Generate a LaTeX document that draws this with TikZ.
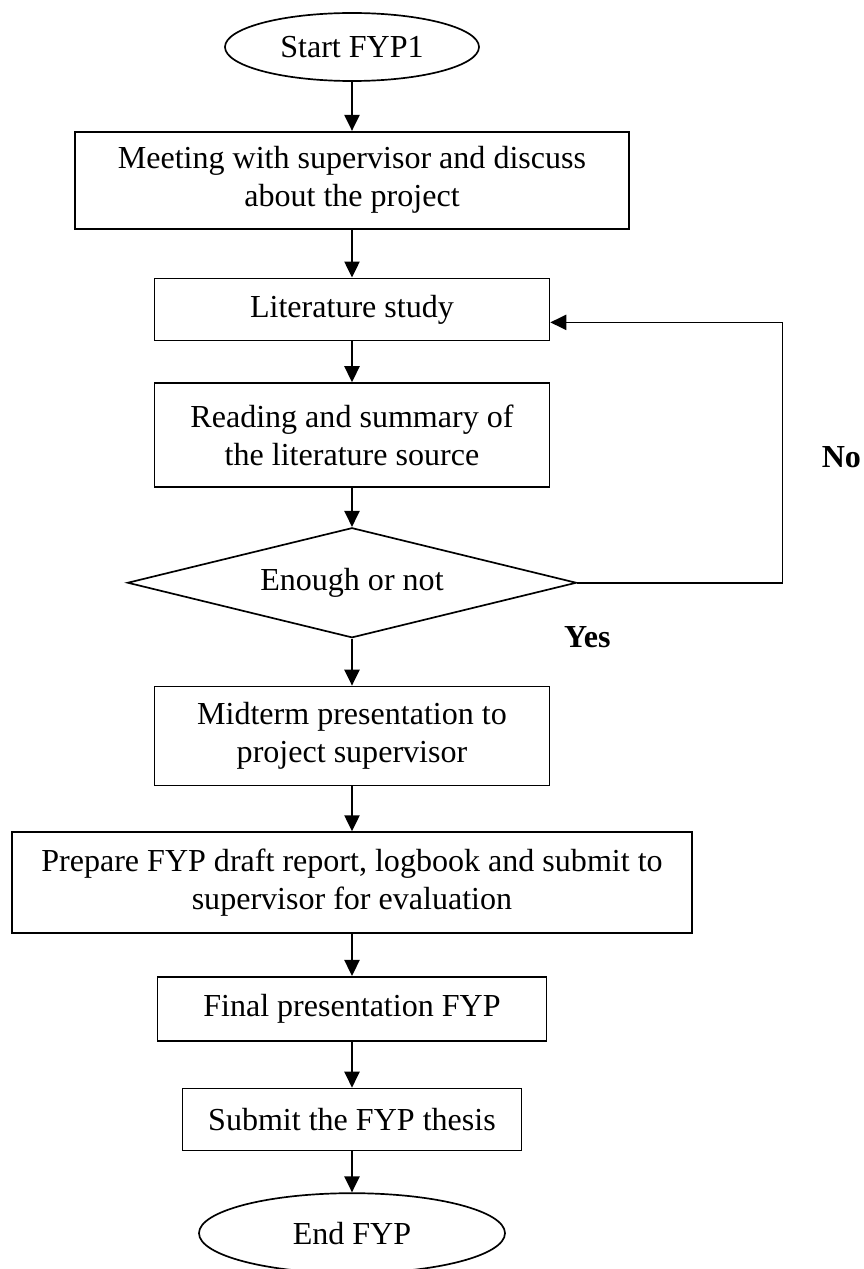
\documentclass[tikz,border=0pt]{standalone}
\usepackage{fontspec}
\setmainfont{Liberation Serif}
\usetikzlibrary{arrows.meta, positioning, shapes.geometric}

\begin{document}
\begin{tikzpicture}[
    node distance=1.1cm,
    term/.style={ellipse, draw, line width=1.2pt, inner sep=0pt, text centered},
    box/.style={rectangle, draw, line width=1.2pt, inner sep=0pt, align=center},
    decision/.style={diamond, draw, line width=1.2pt, shape aspect=4, inner sep=0pt, text centered},
    arrow/.style={-{Triangle[length=0.4cm, width=0.38cm]}, line width=1.2pt},
    answer/.style={font=\fontsize{22.8}{27}\selectfont\bfseries},
    font=\fontsize{22.8}{27}\selectfont
]

\useasboundingbox (-8.8,1.175) rectangle (12.8,-30.55);

% Main flow
\node[term, minimum width=6.35cm, minimum height=1.7cm] (start) at (0,0) {Start FYP1};
\node[box, minimum width=13.85cm, minimum height=2.425cm, below=1.225cm of start] (meet) {Meeting with supervisor and discuss\\about the project};
\node[box, minimum width=9.875cm, minimum height=1.55cm, below=1.2cm of meet] (lit) {Literature study};
\node[box, minimum width=9.875cm, minimum height=2.6cm, below=1.025cm of lit] (read) {Reading and summary of\\the literature source};
\node[decision, minimum width=11.225cm, minimum height=2.75cm, below=0.975cm of read] (dec) {Enough or not};
\node[box, minimum width=9.875cm, minimum height=2.475cm, below=1.175cm of dec] (mid) {Midterm presentation to\\project supervisor};
\node[box, minimum width=17cm, minimum height=2.525cm, below=1.125cm of mid] (draft) {Prepare FYP draft report, logbook and submit to\\supervisor for evaluation};
\node[box, minimum width=9.725cm, minimum height=1.6cm, below=1.05cm of draft] (final) {Final presentation FYP};
\node[box, minimum width=8.475cm, minimum height=1.55cm, below=1.15cm of final] (thesis) {Submit the FYP thesis};
\node[term, minimum width=7.65cm, minimum height=2cm, below=1.025cm of thesis] (end) {End FYP};

% Arrows
\draw[arrow] (start) -- (meet);
\draw[arrow] (meet) -- (lit);
\draw[arrow] (lit) -- (read);
\draw[arrow] (read) -- (dec);
\draw[arrow] (dec) -- (mid);
\draw[arrow] (mid) -- (draft);
\draw[arrow] (draft) -- (final);
\draw[arrow] (final) -- (thesis);
\draw[arrow] (thesis) -- (end);

% Loop back
\coordinate[right=5.125cm of dec.east] (back);
\draw[arrow] (dec.east) -- (back) |- ([yshift=-0.325cm]lit.east);

\node[answer] (no) at ([xshift=1.475cm, yshift=3.15cm]back) {No};
\node[answer] (yes) at ([xshift=0.25cm, yshift=-1.35cm]dec.east) {Yes};

\end{tikzpicture}
\end{document}
